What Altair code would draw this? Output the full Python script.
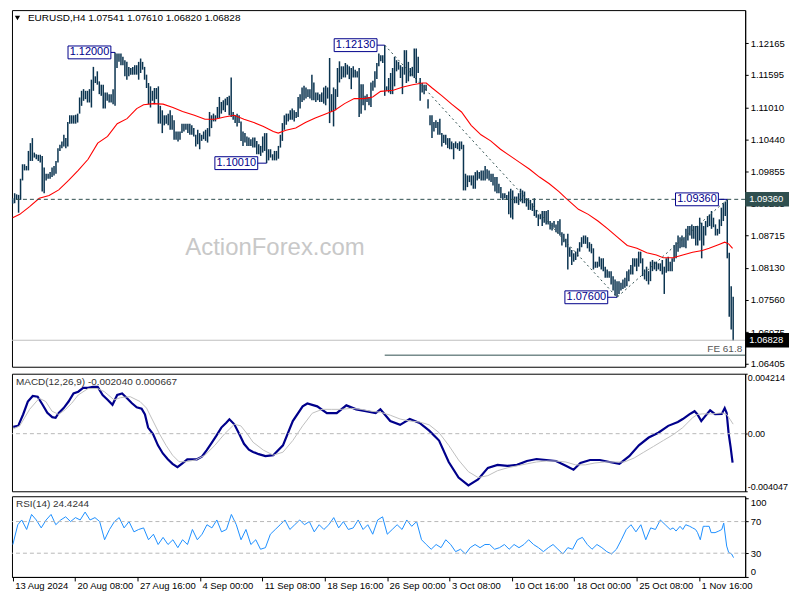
import altair as alt
import pandas as pd

FONT = "Liberation Sans"

# ---------------- data ----------------
# H4 bar highs / lows in pips (1e-4), bar 0 = 13 Aug 2024 00:00
bar_high_pips = [
    10938,10947,10945,10944,10973,10999,10999,10996,11023,11037,
    11046,11020,11017,11016,11016,11014,10993,10982,10982,10985,
    10993,10996,11005,11028,11034,11040,11052,11046,11075,11087,
    11087,11087,11088,11090,11119,11131,11134,11131,11131,11134,
    11151,11174,11157,11166,11148,11142,11142,11128,11128,11125,
    11125,11134,11200,11198,11198,11198,11192,11186,11183,11174,
    11172,11174,11177,11177,11183,11189,11183,11174,11160,11145,
    11139,11131,11136,11136,11139,11104,11096,11087,11087,11090,
    11096,11087,11078,11058,11058,11058,11072,11072,11072,11072,
    11072,11069,11064,11052,
    11061,11055,11052,11058,11061,11064,11093,11087,11090,11087,
    11102,11120,11111,11114,11117,11120,11122,11155,11093,11087,
    11090,11087,11076,11058,11055,11049,11047,11044,11047,11047,
    11041,11035,11032,11049,11055,11055,11026,11026,11017,11023,
    11023,11032,11052,11073,11087,11090,11090,11096,11099,11096,
    11093,11120,11125,11137,11140,11137,11134,11134,11160,11146,
    11128,11128,11125,11128,11137,11140,11137,11190,11125,11137,
    11134,11172,11184,11175,11175,11181,11178,11175,11172,11175,
    11169,11166,11172,11143,11143,11122,11125,11120,11146,11149,
    11166,11181,11198,11195,11195,
    11213,11139,11154,11163,11172,11192,11186,11183,11177,11174,
    11204,11204,11183,11172,11174,11207,11207,11192,11154,11145,
    11142,11142,11116,11087,11087,11075,11078,11075,11081,11055,
    11052,11052,11046,11046,11040,11037,11040,11037,11040,11040,
    11034,10982,10979,10979,10979,10979,10985,10988,10985,10988,
    10988,10996,10990,10988,10982,10982,10976,10976,10964,10958,
    10947,10947,10944,10950,10955,10952,10941,10941,10947,10955,
    10952,10950,10938,10938,10935,10929,10938,10917,10909,10909,
    10915,10915,10915,10917,10897,10894,10897,10891,10897,10900,
    10877,10874,10865,
    10874,10850,10845,10839,10842,10848,10859,10868,10871,10871,
    10868,10859,10856,10848,10824,10824,10833,10830,10830,10815,
    10810,10807,10807,10798,10792,10789,10789,10786,10792,10795,
    10807,10810,10818,10830,10830,10830,10842,10842,10830,10810,
    10815,10807,10824,10827,10824,10824,10821,10821,10827,10815,
    10830,10833,10824,10830,10854,10859,10871,10868,10871,10868,
    10883,10888,10888,10891,10888,10888,10888,10903,10894,10888,
    10897,10906,10909,10915,10903,10891,10883,10900,10921,10929,
    10932,10936,10840,10780,10761,
]
bar_low_pips = [
    10928,10929,10935,10912,10935,10970,10988,10988,10988,11005,
    11005,11011,11008,11005,11002,10950,10947,10970,10973,10973,
    10976,10979,10982,11002,11023,11028,11031,11028,11031,11072,
    11072,11072,11072,11074,11090,11104,11113,11116,11110,11110,
    11101,11131,11145,11142,11125,11122,11099,11099,11113,11110,
    11110,11107,11104,11172,11183,11177,11177,11157,11151,11157,
    11160,11160,11160,11160,11151,11163,11169,11151,11136,11107,
    11101,11113,11107,11116,11072,11072,11055,11069,11072,11069,
    11061,11061,11043,11043,11040,11043,11055,11058,11061,11055,
    11052,11052,11049,11031,
    11035,11026,11041,11044,11041,11038,11049,11064,11076,11076,
    11082,11082,11090,11096,11093,11105,11087,11084,11079,11073,
    11067,11073,11041,11032,11038,11032,11032,11032,11029,11029,
    11017,11017,11014,11020,11023,11001,11006,11011,11006,11006,
    11006,11009,11029,11041,11061,11070,11076,11079,11079,11076,
    11082,11084,11099,11111,11114,11117,11120,11117,11114,11114,
    11111,11114,11111,11111,11108,11105,11117,11073,11093,11067,
    11096,11120,11146,11152,11155,11155,11160,11152,11134,11155,
    11155,11155,11084,11090,11105,11096,11111,11105,11102,11131,
    11137,11152,11175,11184,11181,
    11122,11131,11128,11125,11125,11139,11166,11169,11154,11125,
    11160,11145,11148,11157,11157,11154,11145,11163,11113,11128,
    11125,11131,11099,11069,11046,11058,11064,11052,11052,11031,
    11037,11034,11028,11026,11026,11008,11028,11026,11023,11026,
    10952,10952,10958,10967,10961,10955,10955,10970,10973,10970,
    10970,10970,10973,10970,10967,10961,10950,10947,10947,10938,
    10935,10938,10935,10909,10903,10900,10929,10929,10926,10932,
    10929,10929,10923,10917,10917,10915,10906,10903,10888,10900,
    10888,10894,10891,10891,10882,10880,10885,10877,10874,10871,
    10853,10859,10850,
    10810,10833,10818,10824,10827,10833,10842,10850,10856,10856,
    10848,10842,10839,10810,10813,10813,10815,10810,10807,10795,
    10795,10795,10783,10772,10763,10760,10766,10772,10775,10777,
    10780,10789,10801,10801,10815,10807,10815,10821,10798,10792,
    10789,10783,10789,10807,10810,10807,10810,10807,10801,10766,
    10804,10807,10807,10807,10824,10830,10842,10848,10850,10850,
    10848,10862,10871,10865,10865,10853,10853,10862,10830,10853,
    10871,10886,10888,10883,10886,10871,10871,10874,10888,10897,
    10906,10830,10725,10702,10682,
]

# red moving average (bar position, price)
ma_bar = [0, 3.6, 8.6, 13.5, 18.5, 23.4, 28.4, 33.3, 38.3, 43.2, 48.2, 53.1, 58.1, 63.0,
          66.5, 71.5, 76.4, 81.4, 86.3, 92.3, 97.7, 102.7, 107.6, 112.6, 117.5, 122.5,
          127.4, 132.4, 134.9, 138.8, 143.8, 148.7, 153.7, 158.6, 163.6, 168.6, 173.5,
          178.5, 182.9, 186.9, 193.3, 198.3, 203.2, 208.2, 210.1, 213.1, 218.1, 223.0,
          228.0, 232.9, 237.9, 242.8, 247.8, 252.7, 257.7, 262.6, 267.6, 272.6, 277.5,
          281.0, 287.4, 292.4, 297.3, 302.3, 307.2, 312.2, 317.1, 322.1, 327.0, 330.5,
          335.5, 340.4, 345.4, 350.3, 353.8, 358.8, 361.7, 363.7, 365.7]
ma_price = [1.0903, 1.0909, 1.0923, 1.0938, 1.0943, 1.0953, 1.0970, 1.0988, 1.1008, 1.1037,
            1.1049, 1.1072, 1.1081, 1.1099, 1.1106, 1.1108, 1.1107, 1.1101, 1.1094, 1.1087,
            1.1080, 1.1080, 1.1084, 1.1087, 1.1080, 1.1074, 1.1067, 1.1058, 1.1055, 1.1060,
            1.1064, 1.1074, 1.1082, 1.1089, 1.1096, 1.1108, 1.1117, 1.1117, 1.1120, 1.1130,
            1.1132, 1.1138, 1.1142, 1.1145, 1.1145, 1.1136, 1.1122, 1.1107, 1.1093, 1.1069,
            1.1052, 1.1041, 1.1026, 1.1014, 1.1002, 1.0990, 1.0976, 1.0964, 1.0950, 1.0938,
            1.0918, 1.0909, 1.0897, 1.0883, 1.0868, 1.0853, 1.0848, 1.0840, 1.0836, 1.0831,
            1.0831, 1.0836, 1.0841, 1.0844, 1.0848, 1.0855, 1.0859, 1.0856, 1.0848]

# MACD main line (x1e-4)
macd_bar = [0.3, 2.8, 5.3, 7.7, 10.2, 12.7, 15.2, 17.6, 20.1, 21.8,
            23.4, 25.9, 28.4, 30.9, 33.3, 35.8, 38.3, 40.8, 43.2, 45.7,
            48.2, 50.7, 53.1, 55.6, 58.1, 60.6, 63.0, 65.5, 67.2, 68.8,
            71.3, 73.8, 76.3, 78.8, 81.2, 83.7, 86.2, 88.7, 91.1, 93.6,
            96.1, 98.6, 101.0, 103.5, 106.0, 108.5, 110.1, 112.6, 115.1, 117.5,
            120.0, 122.1, 125.0, 128.4, 132.4, 137.3, 142.3, 147.3, 149.7, 154.7,
            159.6, 164.6, 169.5, 174.5, 179.4, 184.4, 186.8, 191.8, 196.8, 201.7,
            206.7, 211.6, 216.6, 221.5, 226.5, 231.5, 236.4, 241.4, 246.3, 251.3,
            256.2, 261.2, 266.1, 271.1, 276.0, 281.0, 284.9, 288.4, 293.3, 298.3,
            303.2, 308.2, 313.2, 318.1, 323.1, 328.0, 333.0, 337.9, 340.4, 343.9,
            346.4, 347.8, 349.8, 351.8, 354.3, 356.8, 360.2, 361.7, 362.7, 363.7,
            364.7, 365.7]
macd_x1e4 = [4.8, 5.5, 13.5, 22.6, 26.5, 26.0, 20.3, 14.6, 11.6, 11.2,
             14.6, 18.0, 22.6, 28.3, 29.5, 32.2, 32.2, 32.9, 32.9, 27.2,
             23.8, 20.3, 27.2, 28.3, 24.9, 21.4, 18.5, 17.6, 13.5, 4.3,
             -0.2, -8.2, -13.9, -18.0, -21.2, -23.5, -20.8, -18.0, -18.0, -18.0,
             -16.2, -11.6, -6.6, -1.4, 4.3, 7.7, 10.1, 6.6, -0.2, -7.1,
             -11.2, -12.8, -14.4, -15.8, -15.1, -8.2, 8.9, 19.2, 21.2, 19.2,
             14.4, 14.4, 19.9, 17.1, 15.8, 14.4, 17.1, 8.9, 6.2, 10.3,
             7.5, 2.1, -4.8, -19.9, -30.8, -36.3, -32.2, -24.0, -21.9, -22.6,
             -21.9, -19.2, -17.8, -18.5, -19.2, -22.6, -25.3, -20.6, -18.5, -18.5,
             -19.9, -21.2, -15.8, -8.2, -2.7, 0.7, 5.5, 8.2, 10.3, 13.7,
             15.8, 13.7, 8.9, 12.3, 16.4, 13.7, 13.9, 18.0, 14.6, 0.0,
             -9.4, -20.4]

# MACD signal line (x1e-4)
signal_bar = [0.3, 3.6, 8.6, 13.5, 16.8, 20.0, 23.4, 26.7, 30.0, 33.3,
              38.3, 43.2, 46.6, 51.5, 54.8, 59.7, 64.7, 68.0, 71.3, 74.6,
              77.9, 81.2, 84.5, 87.8, 92.8, 97.7, 102.7, 107.6, 112.6, 115.9,
              119.2, 122.1, 127.4, 132.4, 137.3, 142.3, 147.3, 152.2, 157.2, 162.1,
              167.1, 172.0, 177.0, 181.9, 186.8, 191.8, 196.8, 201.7, 206.7, 211.6,
              216.6, 221.5, 226.5, 231.5, 236.4, 241.4, 246.3, 251.3, 256.2, 261.2,
              266.1, 271.1, 276.0, 281.0, 285.9, 290.9, 295.8, 300.8, 305.7, 310.7,
              315.7, 320.6, 325.6, 330.5, 335.5, 340.4, 345.4, 347.8, 350.3, 355.3,
              360.2, 362.7, 364.3, 366.0]
signal_x1e4 = [3.4, 5.5, 17.1, 24.9, 22.6, 15.8, 13.5, 16.9, 21.4, 27.2,
               31.7, 31.7, 29.5, 23.8, 25.3, 26.0, 22.6, 18.0, 8.9, -0.2,
               -8.2, -15.1, -19.7, -19.7, -18.5, -15.1, -8.2, -0.2, 6.6, 5.5,
               -0.2, -6.0, -11.6, -15.1, -13.0, -4.8, 5.5, 14.4, 17.1, 17.1,
               17.1, 17.8, 17.1, 15.8, 15.1, 13.0, 10.3, 8.9, 8.2, 6.2,
               0.7, -8.2, -18.5, -26.7, -30.8, -29.5, -26.0, -24.0, -22.6, -21.2,
               -19.9, -19.2, -19.2, -19.9, -21.9, -21.9, -20.6, -19.9, -19.9, -19.9,
               -17.1, -13.0, -8.9, -4.8, -0.7, 4.3, 11.2, 13.5, 13.9, 13.9,
               14.6, 13.5, 10.3, 6.7]

# RSI(14)
rsi_bar = [0.1, 2.6,
           4.6, 7.1, 9.6, 12.0, 14.5, 17.0, 19.5, 21.9, 24.4, 26.9, 29.4, 31.9, 34.3, 36.8,
           39.3, 41.8, 44.2, 46.7, 49.2, 51.7, 54.1, 56.6, 59.1, 61.6, 64.0, 66.5, 69.0,
           71.5, 73.9, 76.4, 78.9, 81.4, 83.9, 86.3, 88.8, 91.3, 93.8, 96.2, 98.7, 101.2,
           103.7, 106.1, 108.6, 111.1, 113.6, 116.0, 118.5, 121.0, 123.5, 125.9, 128.4,
           130.9, 133.4, 135.9, 138.3, 140.8, 143.3, 145.8, 148.2, 150.7, 153.2, 155.7,
           158.1, 160.6, 163.1, 165.6, 168.0, 170.5, 173.0, 175.5, 178.0, 180.4, 182.9,
           185.4, 187.9, 190.3, 192.8, 195.3, 197.8, 200.2, 202.7, 205.2, 207.7, 210.1,
           212.6, 215.1, 217.6, 220.0, 222.5, 225.0, 227.5, 230.0, 232.4, 234.9, 237.4,
           239.9, 242.3, 244.8, 247.3, 249.8, 252.2, 254.7, 257.2, 259.7, 262.1, 264.6,
           267.1, 269.6, 272.1, 274.5, 277.0, 279.5, 282.0, 284.4, 286.9, 289.4, 291.9,
           294.3, 296.8, 299.3, 301.8, 304.2, 306.7, 309.2, 311.7, 314.1, 316.6, 319.1,
           321.6, 324.1, 326.5, 329.0, 331.5, 334.0,
           335.5, 337.0, 339.0, 340.4, 341.9, 343.9, 345.4, 346.9, 347.9, 349.3, 350.8,
           351.8, 353.8, 354.8, 356.8, 358.7, 360.2, 361.2, 362.7, 363.7, 365.2, 366.2]
rsi_val = [41, 66,
           72, 60, 79, 72, 62, 72, 79, 66, 72, 76, 70, 75, 72, 82, 72, 75, 70, 47, 60, 70,
           75, 62, 70, 57, 60, 62, 47, 54, 41, 50, 41, 47, 37, 47, 41, 60, 47, 54, 66, 62,
           72, 57, 60, 79, 66, 47, 60, 41, 47, 35, 37, 54, 60, 66, 72, 60, 66, 72, 66, 70,
           57, 66, 60, 66, 75, 62, 70, 60, 62, 72, 60, 66, 54, 72, 76, 54, 60, 66, 60, 72,
           64, 70, 47, 41, 35, 41, 37, 47, 41, 32, 35, 29, 37, 41, 37, 41, 41, 35, 37, 41,
           35, 41, 37, 41, 47, 41, 37, 32, 37, 41, 35, 29, 37, 35, 47, 50, 41, 35, 41, 37,
           32, 29, 35, 47, 60, 66, 57, 66, 47, 62, 60, 72, 66, 60,
           62, 58, 64, 60, 66, 64, 62, 60, 56, 47, 64, 64, 64, 56, 56, 58, 60, 68, 39, 31,
           29, 24.4]

# time axis labels
x_tick_bar = [0, 31.7, 63.4, 95.1, 126.8, 158.5, 190.2, 221.9, 253.6, 285.3, 317.0, 348.7]
x_tick_text = ["13 Aug 2024", "20 Aug 08:00", "27 Aug 16:00", "4 Sep 00:00", "11 Sep 08:00",
               "18 Sep 16:00", "26 Sep 00:00", "3 Oct 08:00", "10 Oct 16:00", "18 Oct 00:00",
               "25 Oct 08:00", "1 Nov 16:00"]
price_ticks = [1.06405, 1.06975, 1.07560, 1.08130, 1.08715, 1.09285, 1.09855,
               1.10440, 1.11010, 1.11595, 1.12165]

# annotations
label_text = ["1.12000", "1.12130", "1.10010", "1.07600", "1.09360"]
label_price = [1.12000, 1.12130, 1.10010, 1.07600, 1.09360]
label_box_bar = [39.0, 174.2, 113.6, 291.4, 347.6]
label_target_bar = [52, 189, 129, 307, 363]

fe_bar = [189, 307, 363]
fe_price = [1.1213, 1.0760, 1.0936]
fe618_price = 1.0656
level_price = 1.0936
bid_price = 1.06828

title_main = "EURUSD,H4  1.07541 1.07610 1.06820 1.06828"
title_macd = "MACD(12,26,9) -0.002040 0.000667"
title_rsi = "RSI(14) 24.4244"

# ---------------- layout ----------------
W, H1, H2, H3 = 736, 358, 118, 81
XDOM = [-0.35, 372.1]
xs = alt.Scale(domain=XDOM, nice=False, zero=False)
ys_main = alt.Scale(domain=[1.06352, 1.12760], nice=False, zero=False)
ys_macd = alt.Scale(domain=[-0.004047, 0.004214], nice=False, zero=False)
ys_rsi = alt.Scale(domain=[0, 102], nice=False, zero=False)

BAR_COLOR = "#0b3450"
NAVY = "#00008b"
BOX_PATH = "M-1,-0.3L1,-0.3L1,0.3L-1,0.3Z"
RBOX_PATH = "M-1,-0.3L1,-0.3L1,0.3L-1,0.3Z"

one = pd.DataFrame({"a": [0]})

bars_df = pd.DataFrame({
    "bar": list(range(len(bar_high_pips))),
    "high": [h / 1e4 for h in bar_high_pips],
    "low": [l / 1e4 for l in bar_low_pips],
})
ma_df = pd.DataFrame({"bar": ma_bar, "p": ma_price})
lab_df = pd.DataFrame({"b0": label_box_bar, "b1": label_target_bar,
                       "p": label_price, "t": label_text})
fe_df = pd.DataFrame({"bar": fe_bar, "p": fe_price})


def xq(field):
    return alt.X(field, type="quantitative", scale=xs, axis=None)


def yq(field, scale):
    return alt.Y(field, type="quantitative", scale=scale, axis=None)


bars = alt.Chart(bars_df).mark_rule(color=BAR_COLOR, strokeWidth=1.5).encode(
    x=xq("bar"),
    y=alt.Y("low:Q", scale=ys_main, title=None,
            axis=alt.Axis(orient="right", values=price_ticks, format=".5f")),
    y2="high:Q",
)
ma = alt.Chart(ma_df).mark_line(color="#ff0000", strokeWidth=1.1).encode(
    x=xq("bar"), y=yq("p", ys_main), order="bar:Q")

level = alt.Chart(pd.DataFrame({"p": [level_price]})).mark_rule(
    color="#2f4f4f", strokeDash=[4, 3], strokeWidth=1).encode(y=yq("p", ys_main))
bid = alt.Chart(pd.DataFrame({"p": [bid_price]})).mark_rule(
    color="#c0c0c0", strokeWidth=1).encode(y=yq("p", ys_main))
fe618 = alt.Chart(pd.DataFrame({"b": [fe_bar[0]], "p": [fe618_price]})).mark_rule(
    color="#2f4f4f", strokeWidth=1).encode(x=xq("b"), x2=alt.value(W), y=yq("p", ys_main))
fe_text = alt.Chart(pd.DataFrame({"p": [fe618_price]})).mark_text(
    align="right", baseline="bottom", dy=-1, font=FONT, fontSize=10, color="#555555"
).encode(x=alt.value(W - 3), y=yq("p", ys_main), text=alt.value("FE 61.8"))
fe_lines = alt.Chart(fe_df).mark_line(color="#2f4f4f", strokeDash=[2, 3], strokeWidth=1).encode(
    x=xq("bar"), y=yq("p", ys_main), order="bar:Q")

connectors = alt.Chart(lab_df).mark_rule(color=NAVY, strokeWidth=1).encode(
    x=xq("b0"), x2="b1:Q", y=yq("p", ys_main))
boxes = alt.Chart(lab_df).mark_point(
    shape=BOX_PATH, size=43 * 43, filled=True, fill="white", stroke=NAVY,
    strokeWidth=1, opacity=1).encode(x=xq("b0"), y=yq("p", ys_main))
box_text = alt.Chart(lab_df).mark_text(
    font=FONT, fontSize=11, color=NAVY, align="center", baseline="middle").encode(
    x=xq("b0"), y=yq("p", ys_main), text="t:N")

rbox_df = pd.DataFrame({"p": [level_price, bid_price], "t": ["1.09360", "1.06828"],
                        "bg": ["#2f4f4f", "#000000"]})
rboxes = alt.Chart(rbox_df).mark_point(
    shape=RBOX_PATH, size=42 * 42, filled=True, opacity=1).encode(
    x=alt.value(W + 22), y=yq("p", ys_main),
    fill=alt.Fill("bg:N", scale=None), stroke=alt.Stroke("bg:N", scale=None))
rbox_text = alt.Chart(rbox_df).mark_text(
    font=FONT, fontSize=9.5, color="white", align="left", baseline="middle").encode(
    x=alt.value(W + 4), y=yq("p", ys_main), text="t:N")

tri = alt.Chart(one).mark_point(shape="triangle-down", size=28, filled=True,
                                color="black", opacity=1).encode(
    x=alt.value(5.5), y=alt.value(8))
title1 = alt.Chart(one).mark_text(font=FONT, fontSize=10, color="black", align="left",
                                  baseline="middle").encode(
    x=alt.value(16), y=alt.value(8), text=alt.value(title_main))
watermark = alt.Chart(one).mark_text(font=FONT, fontSize=24, color="#c8c8c8",
                                     align="center", baseline="middle").encode(
    x=alt.value(264), y=alt.value(239), text=alt.value("ActionForex.com"))

main = alt.layer(bars, watermark, ma, level, bid, fe618, fe_lines, fe_text,
                 connectors, boxes, box_text, rboxes, rbox_text, tri, title1
                 ).resolve_axis(x="independent", y="independent").properties(width=W, height=H1)

# MACD panel
macd_df = pd.DataFrame({"bar": macd_bar, "v": [v / 1e4 for v in macd_x1e4]})
sig_df = pd.DataFrame({"bar": signal_bar, "v": [v / 1e4 for v in signal_x1e4]})
zero = alt.Chart(pd.DataFrame({"v": [0.0]})).mark_rule(
    color="#b8b8b8", strokeDash=[4, 3]).encode(y=yq("v", ys_macd))
sig_line = alt.Chart(sig_df).mark_line(color="#c0c0c0", strokeWidth=1).encode(
    x=xq("bar"), y=yq("v", ys_macd), order="bar:Q")
macd_line = alt.Chart(macd_df).mark_line(color=NAVY, strokeWidth=2.2).encode(
    x=xq("bar"),
    y=alt.Y("v:Q", scale=ys_macd, title=None,
            axis=alt.Axis(orient="right", values=[-0.004047, 0, 0.004214], labelFlush=True,
                          labelFontSize=9, labelPadding=0, tickSize=2,
                          labelExpr="datum.value < 0 ? '-0.004047' : (datum.value > 0 ? '0.004214' : '0.00')")),
    order="bar:Q")
title2 = alt.Chart(one).mark_text(font=FONT, fontSize=10, color="#333333", align="left",
                                  baseline="middle").encode(
    x=alt.value(4), y=alt.value(8), text=alt.value(title_macd))
macd_panel = alt.layer(macd_line, zero, sig_line, title2).resolve_axis(
    x="independent", y="independent").properties(width=W, height=H2)

# RSI panel
rsi_df = pd.DataFrame({"bar": rsi_bar, "v": rsi_val})
lv = alt.Chart(pd.DataFrame({"v": [30, 70]})).mark_rule(
    color="#b8b8b8", strokeDash=[4, 3]).encode(y=yq("v", ys_rsi))
rsi_line = alt.Chart(rsi_df).mark_line(color="#1e90ff", strokeWidth=1).encode(
    x=alt.X("bar:Q", scale=xs, title=None,
            axis=alt.Axis(values=x_tick_bar, labelAlign="left", labelOffset=2,
                          labelPadding=0, tickSize=4, labelOverlap=False, labelFlush=False,
                          labelBound=False,
                          labelExpr="[" + ",".join("'%s'" % t for t in x_tick_text) +
                                    "][round(datum.value / 31.7)]")),
    y=alt.Y("v:Q", scale=ys_rsi, title=None,
            axis=alt.Axis(orient="right", values=[0, 30, 70, 100], labelFlush=3, format="d")),
    order="bar:Q")
title3 = alt.Chart(one).mark_text(font=FONT, fontSize=10, color="#333333", align="left",
                                  baseline="middle").encode(
    x=alt.value(4), y=alt.value(8), text=alt.value(title_rsi))
rsi_panel = alt.layer(rsi_line, lv, title3).resolve_axis(
    x="independent", y="independent").properties(width=W, height=H3)

chart = alt.vconcat(main, macd_panel, rsi_panel, spacing=3).properties(
    padding={"left": 0, "top": 0, "right": -1, "bottom": 0}, background="white"
).configure_view(stroke="black", strokeWidth=1).configure_axis(
    labelFont=FONT, labelFontSize=9.5, labelColor="black", tickColor="black",
    domainColor="black", tickSize=3, labelPadding=2, grid=False)

chart.save("out.html", embed_options={"renderer": "svg", "actions": False})
